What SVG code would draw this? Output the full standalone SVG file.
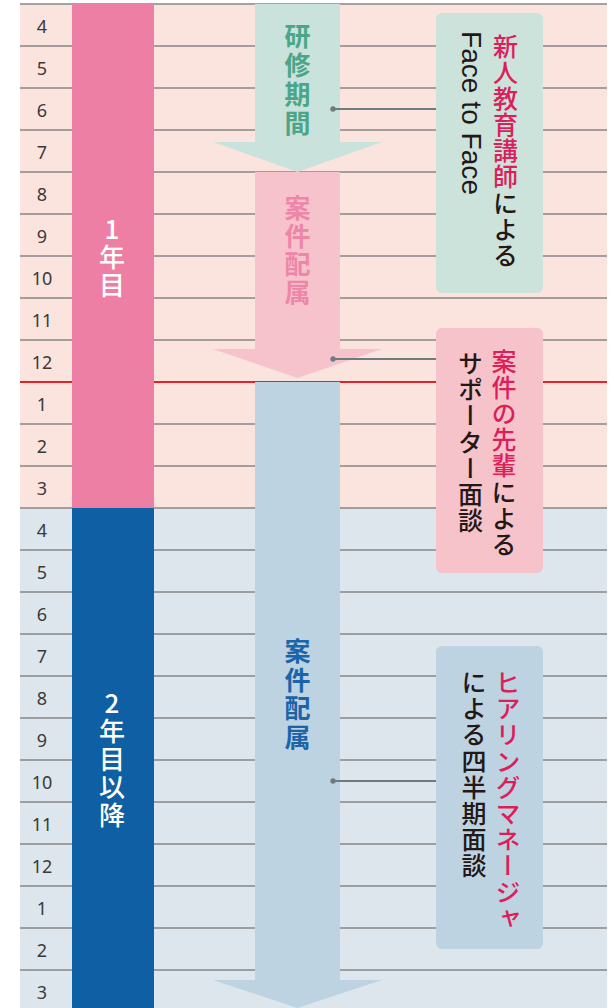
<svg xmlns="http://www.w3.org/2000/svg" width="615" height="1008" viewBox="0 0 615 1008">
<style>
.num{font-family:"Noto Sans","Open Sans",sans-serif;font-size:18px;fill:#3a3a3a;text-anchor:middle}
.grid{stroke:#868686;stroke-width:1.5}
.vt{font-family:"Noto Sans CJK JP",sans-serif;writing-mode:vertical-rl}
.box{font-size:25px;letter-spacing:1.2px;fill:#231815;font-weight:500}
.red{fill:#dc1f5a}
.lbl{font-size:26px;font-weight:700}
.yr{font-size:26px;fill:#ffffff;text-orientation:upright;letter-spacing:2px;font-weight:500}
.con{stroke:#6e7b81;stroke-width:2}
.dot{fill:#6e7b81}
</style>
<rect x="0" y="0" width="615" height="1008" fill="#ffffff"/>
<g id="background">
<rect x="20" y="4" width="587" height="504" fill="#fbe3de"/>
<rect x="20" y="508" width="587" height="500" fill="#dde6ed"/>
</g>
<g id="gridlines">
<line class="grid" x1="20" x2="607" y1="4" y2="4"/>
<line class="grid" x1="20" x2="607" y1="46" y2="46"/>
<line class="grid" x1="20" x2="607" y1="88" y2="88"/>
<line class="grid" x1="20" x2="607" y1="130" y2="130"/>
<line class="grid" x1="20" x2="607" y1="172" y2="172"/>
<line class="grid" x1="20" x2="607" y1="214" y2="214"/>
<line class="grid" x1="20" x2="607" y1="256" y2="256"/>
<line class="grid" x1="20" x2="607" y1="298" y2="298"/>
<line class="grid" x1="20" x2="607" y1="340" y2="340"/>
<line class="grid" x1="20" x2="607" y1="424" y2="424"/>
<line class="grid" x1="20" x2="607" y1="466" y2="466"/>
<line class="grid" x1="20" x2="607" y1="508" y2="508"/>
<line class="grid" x1="20" x2="607" y1="550" y2="550"/>
<line class="grid" x1="20" x2="607" y1="592" y2="592"/>
<line class="grid" x1="20" x2="607" y1="634" y2="634"/>
<line class="grid" x1="20" x2="607" y1="676" y2="676"/>
<line class="grid" x1="20" x2="607" y1="718" y2="718"/>
<line class="grid" x1="20" x2="607" y1="760" y2="760"/>
<line class="grid" x1="20" x2="607" y1="802" y2="802"/>
<line class="grid" x1="20" x2="607" y1="844" y2="844"/>
<line class="grid" x1="20" x2="607" y1="886" y2="886"/>
<line class="grid" x1="20" x2="607" y1="928" y2="928"/>
<line class="grid" x1="20" x2="607" y1="970" y2="970"/>
<line x1="20" x2="607" y1="382" y2="382" stroke="#e8202a" stroke-width="2.2"/>
</g>
<g id="months">
<text class="num" x="42" y="33">4</text>
<text class="num" x="42" y="75">5</text>
<text class="num" x="42" y="117">6</text>
<text class="num" x="42" y="159">7</text>
<text class="num" x="42" y="201">8</text>
<text class="num" x="42" y="243">9</text>
<text class="num" x="42" y="285">10</text>
<text class="num" x="42" y="327">11</text>
<text class="num" x="42" y="369">12</text>
<text class="num" x="42" y="411">1</text>
<text class="num" x="42" y="453">2</text>
<text class="num" x="42" y="495">3</text>
<text class="num" x="42" y="537">4</text>
<text class="num" x="42" y="579">5</text>
<text class="num" x="42" y="621">6</text>
<text class="num" x="42" y="663">7</text>
<text class="num" x="42" y="705">8</text>
<text class="num" x="42" y="747">9</text>
<text class="num" x="42" y="789">10</text>
<text class="num" x="42" y="831">11</text>
<text class="num" x="42" y="873">12</text>
<text class="num" x="42" y="915">1</text>
<text class="num" x="42" y="957">2</text>
<text class="num" x="42" y="999">3</text>
</g>
<g id="year1">
<rect x="72" y="4" width="82" height="504" fill="#ee7fa4"/>
<text class="vt yr" x="112" y="216">1年目</text>
</g>
<g id="year2">
<rect x="72" y="508" width="82" height="500" fill="#0e5fa3"/>
<text class="vt yr" x="112" y="690">2年目以降</text>
</g>
<g id="arrow-assign1">
<polygon points="255,172 340,172 340,349 382,349 297.5,378 213,349 255,349" fill="#f6c3cc"/>
<text class="vt lbl" x="297.5" y="195.5" fill="#ee86a8" letter-spacing="2">案件配属</text>
</g>
<g id="arrow-training">
<polygon points="255,4 340,4 340,142 382,142 297.5,172 213,142 255,142" fill="#c9e2db"/>
<text class="vt lbl" x="297.5" y="23.5" fill="#4ba688" letter-spacing="3">研修期間</text>
</g>
<g id="arrow-assign2">
<polygon points="255,382 340,382 340,980 382,980 297.5,1008 213,980 255,980" fill="#bdd3e1"/>
<text class="vt lbl" x="297.5" y="638.5" fill="#1b64aa" letter-spacing="2.5">案件配属</text>
</g>
<g id="connectors">
<line class="con" x1="333" y1="109" x2="437" y2="109"/>
<circle class="dot" cx="333" cy="109" r="2.7"/>
<line class="con" x1="333" y1="359" x2="437" y2="359"/>
<circle class="dot" cx="333" cy="359" r="2.7"/>
<line class="con" x1="333" y1="781" x2="437" y2="781"/>
<circle class="dot" cx="333" cy="781" r="2.7"/>
</g>
<g id="callout1">
<rect x="436" y="13" width="107" height="280" rx="6" fill="#cce3dc"/>
<text class="vt box" x="505.5" y="33.5" letter-spacing="1.7"><tspan class="red">新人教育講師</tspan>による</text>
<text transform="translate(462,31) rotate(90)" x="0" y="0" font-family="Liberation Sans, sans-serif" font-size="28" fill="#231815" textLength="164">Face to Face</text>
</g>
<g id="callout2">
<rect x="436" y="328" width="107" height="245" rx="6" fill="#f6c3cb"/>
<text class="vt box" x="504" y="348.5"><tspan class="red">案件の先輩</tspan>による</text>
<text class="vt box" x="470.5" y="351">サポーター面談</text>
</g>
<g id="callout3">
<rect x="436" y="646" width="107" height="303" rx="6" fill="#bdd3e1"/>
<text class="vt box red" x="508" y="670">ヒアリングマネージャ</text>
<text class="vt box" x="474" y="670">による四半期面談</text>
</g>
</svg>
